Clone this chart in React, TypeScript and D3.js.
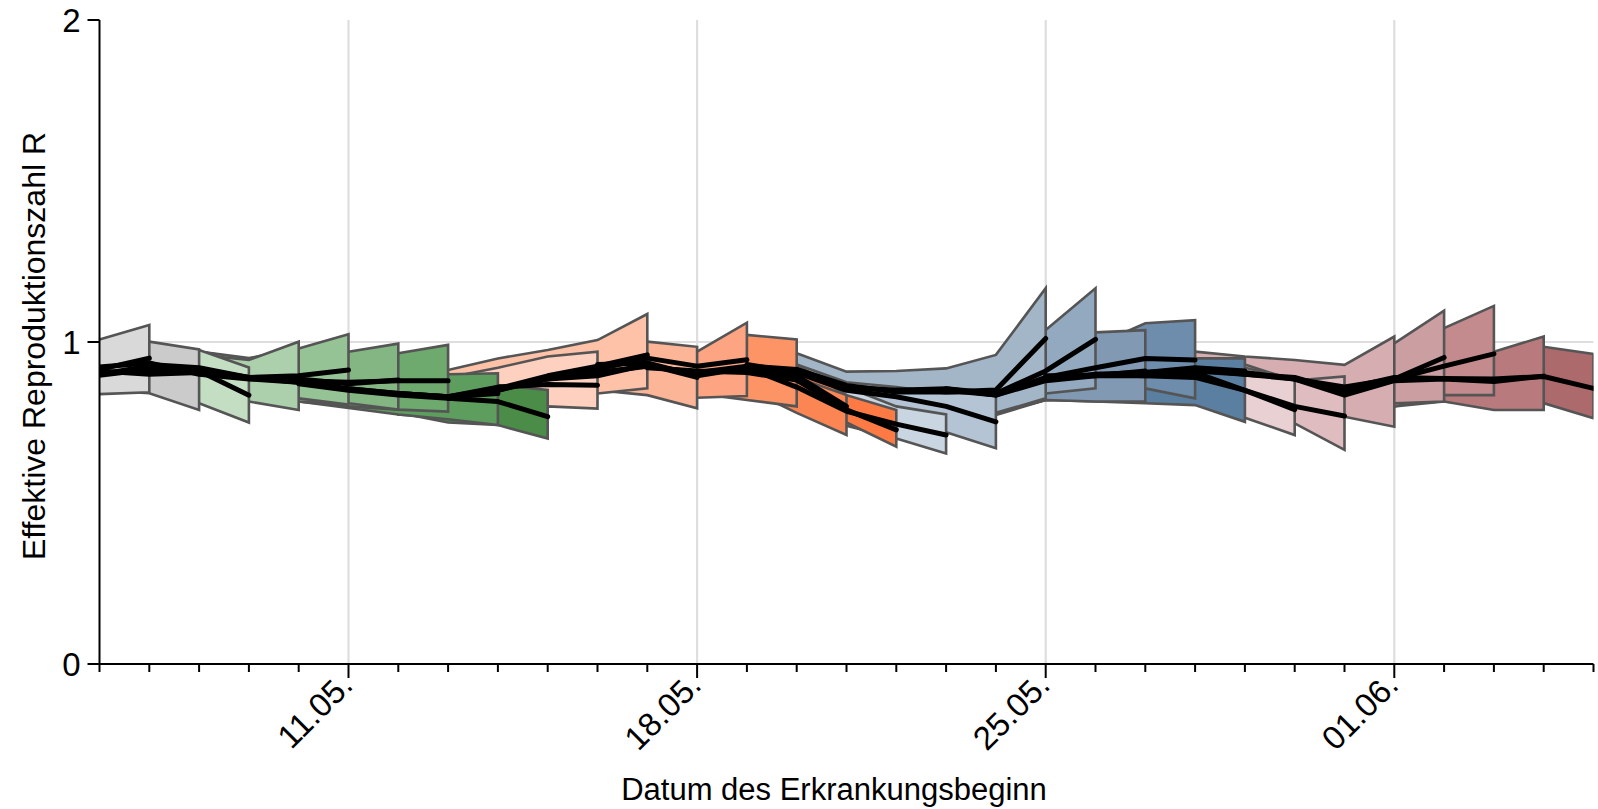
import * as d3 from "d3";

const W = 1598;
const H = 809;
const PLOT = { left: 99.5, right: 1593.5, top: 20, bottom: 664 };
const FONT = "'Liberation Sans', Arial, sans-serif";

// last day covered by each nowcast run (one ribbon + one line per run)
const pubEnd = [
  "2020-05-07", "2020-05-08", "2020-05-09", "2020-05-10", "2020-05-11", "2020-05-12",
  "2020-05-13", "2020-05-14", "2020-05-15", "2020-05-16", "2020-05-17", "2020-05-18",
  "2020-05-19", "2020-05-20", "2020-05-21", "2020-05-22", "2020-05-23", "2020-05-24",
  "2020-05-25", "2020-05-26", "2020-05-27", "2020-05-28", "2020-05-29", "2020-05-30",
  "2020-05-31", "2020-06-01", "2020-06-02", "2020-06-03", "2020-06-04", "2020-06-05",
];

// one shade per run, grouped by week
const pubColor = [
  "#d9d9d9", "#cbcbcb",
  "#c4dec4", "#acd0ac", "#96c396", "#83b683", "#6ea96e", "#5d9d5d", "#4a8c48",
  "#fdd0bf", "#fdc2a8", "#fdb597", "#fda482", "#fd9466", "#fc8653", "#fd7a45",
  "#c9d5e0", "#b4c4d4", "#a3b6c8", "#93a9bf", "#8199b2", "#6e8cab", "#5b7fa0",
  "#e8d0d3", "#dfbcc0", "#d6adb1", "#cb9ea2", "#c38b8e", "#b87a7c", "#ad6a6d",
];

// R estimates for the six days up to pubEnd (oldest first)
const estMid = [
  [0.9, 0.905, 0.91, 0.915, 0.915, 0.95],
  [0.895, 0.9, 0.91, 0.9, 0.925, 0.915],
  [0.9, 0.915, 0.897, 0.915, 0.91, 0.835],
  [0.925, 0.922, 0.935, 0.9, 0.885, 0.875],
  [0.91, 0.9, 0.905, 0.89, 0.895, 0.913],
  [0.93, 0.92, 0.89, 0.885, 0.87, 0.882],
  [0.915, 0.89, 0.88, 0.875, 0.88, 0.88],
  [0.89, 0.875, 0.855, 0.84, 0.83, 0.84],
  [0.87, 0.85, 0.835, 0.825, 0.815, 0.768],
  [0.855, 0.84, 0.83, 0.86, 0.868, 0.866],
  [0.84, 0.83, 0.855, 0.895, 0.925, 0.96],
  [0.825, 0.85, 0.885, 0.895, 0.93, 0.89],
  [0.85, 0.89, 0.915, 0.95, 0.925, 0.945],
  [0.885, 0.905, 0.925, 0.905, 0.925, 0.915],
  [0.93, 0.935, 0.895, 0.92, 0.895, 0.8],
  [0.92, 0.91, 0.905, 0.882, 0.789, 0.727],
  [0.905, 0.92, 0.86, 0.785, 0.745, 0.711],
  [0.93, 0.905, 0.85, 0.83, 0.8, 0.752],
  [0.915, 0.865, 0.845, 0.845, 0.851, 1.011],
  [0.86, 0.85, 0.855, 0.84, 0.91, 1.008],
  [0.85, 0.85, 0.835, 0.88, 0.895, 0.91],
  [0.855, 0.835, 0.89, 0.92, 0.949, 0.944],
  [0.84, 0.885, 0.9, 0.905, 0.92, 0.91],
  [0.895, 0.895, 0.895, 0.89, 0.85, 0.79],
  [0.9, 0.895, 0.905, 0.85, 0.8, 0.77],
  [0.905, 0.915, 0.9, 0.885, 0.86, 0.885],
  [0.91, 0.9, 0.89, 0.845, 0.885, 0.952],
  [0.905, 0.885, 0.85, 0.885, 0.925, 0.963],
  [0.885, 0.835, 0.88, 0.885, 0.877, 0.894],
  [0.855, 0.89, 0.887, 0.885, 0.893, 0.856],
];

const estLo = [
  [0.85, 0.845, 0.85, 0.85, 0.838, 0.844],
  [0.845, 0.85, 0.855, 0.85, 0.841, 0.789],
  [0.85, 0.855, 0.85, 0.855, 0.81, 0.75],
  [0.855, 0.85, 0.86, 0.845, 0.815, 0.789],
  [0.85, 0.86, 0.85, 0.825, 0.825, 0.806],
  [0.86, 0.85, 0.825, 0.815, 0.81, 0.79],
  [0.85, 0.825, 0.815, 0.8, 0.79, 0.784],
  [0.825, 0.815, 0.795, 0.775, 0.76, 0.742],
  [0.83, 0.805, 0.78, 0.75, 0.742, 0.7],
  [0.8, 0.78, 0.77, 0.79, 0.8, 0.793],
  [0.775, 0.765, 0.785, 0.82, 0.84, 0.856],
  [0.77, 0.79, 0.83, 0.85, 0.835, 0.794],
  [0.79, 0.83, 0.85, 0.87, 0.827, 0.832],
  [0.83, 0.85, 0.87, 0.84, 0.82, 0.8],
  [0.85, 0.87, 0.845, 0.855, 0.78, 0.711],
  [0.87, 0.845, 0.855, 0.83, 0.75, 0.675],
  [0.84, 0.855, 0.81, 0.74, 0.7, 0.654],
  [0.855, 0.83, 0.8, 0.78, 0.72, 0.67],
  [0.85, 0.81, 0.79, 0.785, 0.78, 0.825],
  [0.8, 0.79, 0.795, 0.8, 0.84, 0.856],
  [0.79, 0.79, 0.78, 0.82, 0.815, 0.815],
  [0.79, 0.78, 0.82, 0.825, 0.856, 0.825],
  [0.773, 0.82, 0.815, 0.81, 0.804, 0.752],
  [0.83, 0.835, 0.835, 0.815, 0.765, 0.711],
  [0.835, 0.84, 0.83, 0.8, 0.747, 0.665],
  [0.84, 0.84, 0.82, 0.79, 0.768, 0.737],
  [0.845, 0.835, 0.815, 0.785, 0.81, 0.815],
  [0.84, 0.82, 0.79, 0.8, 0.835, 0.835],
  [0.825, 0.795, 0.8, 0.815, 0.789, 0.789],
  [0.795, 0.81, 0.815, 0.8, 0.81, 0.763],
];

const estHi = [
  [0.97, 0.965, 0.975, 0.985, 1.008, 1.053],
  [0.965, 0.97, 0.975, 0.975, 1.001, 0.977],
  [0.97, 0.975, 0.97, 0.985, 0.975, 0.921],
  [0.975, 0.97, 0.98, 0.96, 0.944, 1.001],
  [0.97, 0.98, 0.97, 0.95, 0.98, 1.024],
  [0.98, 0.97, 0.945, 0.94, 0.97, 0.995],
  [0.97, 0.945, 0.94, 0.935, 0.965, 0.991],
  [0.945, 0.94, 0.925, 0.905, 0.9, 0.903],
  [0.94, 0.92, 0.9, 0.89, 0.866, 0.851],
  [0.92, 0.9, 0.89, 0.92, 0.955, 0.97],
  [0.9, 0.913, 0.949, 0.975, 1.006, 1.087],
  [0.89, 0.91, 0.95, 0.975, 1.001, 0.985],
  [0.91, 0.95, 0.975, 1.0, 0.97, 1.06],
  [0.95, 0.975, 1.0, 0.97, 1.022, 1.008],
  [0.975, 1.0, 0.965, 0.98, 0.89, 0.835],
  [0.995, 0.97, 0.98, 0.93, 0.835, 0.789],
  [0.965, 0.98, 0.92, 0.86, 0.8, 0.775],
  [0.98, 0.93, 0.875, 0.86, 0.84, 0.84],
  [0.965, 0.908, 0.91, 0.918, 0.96, 1.167],
  [0.89, 0.88, 0.89, 0.93, 1.037, 1.167],
  [0.88, 0.89, 0.9, 0.96, 1.03, 1.037],
  [0.89, 0.895, 0.96, 0.99, 1.058, 1.068],
  [0.88, 0.95, 0.96, 0.965, 0.949, 0.949],
  [0.93, 0.94, 0.945, 0.94, 0.92, 0.885],
  [0.94, 0.945, 0.95, 0.93, 0.88, 0.893],
  [0.96, 0.97, 0.955, 0.944, 0.929, 1.017],
  [0.95, 0.945, 0.935, 0.91, 0.996, 1.097],
  [0.945, 0.935, 0.91, 0.95, 1.043, 1.112],
  [0.935, 0.91, 0.945, 0.96, 0.97, 1.017],
  [0.91, 0.94, 0.95, 0.955, 0.985, 0.963],
];

const yTicks = [0, 1, 2];
const majorDays = ["2020-05-11", "2020-05-18", "2020-05-25", "2020-06-01"];
const xStart = "2020-05-06";
const xEnd = "2020-06-05";

const parse = d3.utcParse("%Y-%m-%d");
const fmt = d3.utcFormat("%d.%m.");

type Pt = { date: Date; mid: number; lo: number; hi: number };

export default function App() {
  const x = d3
    .scaleUtc()
    .domain([parse(xStart)!, parse(xEnd)!])
    .range([PLOT.left, PLOT.right]);
  const y = d3.scaleLinear().domain([0, 2]).range([PLOT.bottom, PLOT.top]);

  const runs = pubEnd.map((end, i) => {
    const last = parse(end)!;
    const n = estMid[i].length;
    const pts: Pt[] = estMid[i].map((m, k) => ({
      date: d3.utcDay.offset(last, k - (n - 1)),
      mid: m,
      lo: estLo[i][k],
      hi: estHi[i][k],
    }));
    return { pts, color: pubColor[i] };
  });

  const area = d3
    .area<Pt>()
    .x((d) => x(d.date))
    .y0((d) => y(d.lo))
    .y1((d) => y(d.hi));
  const line = d3
    .line<Pt>()
    .x((d) => x(d.date))
    .y((d) => y(d.mid));

  const days = d3.utcDay.range(parse(xStart)!, d3.utcDay.offset(parse(xEnd)!, 1));
  const majors = majorDays.map((s) => parse(s)!);
  const isMajor = (d: Date) => majors.some((m) => +m === +d);

  // older runs are painted last so their newest day stays on top
  const paintOrder = runs.slice().reverse();

  return (
    <svg
      width={W}
      height={H}
      style={{ position: "absolute", left: 0, top: 0, background: "#fff" }}
      fontFamily={FONT}
    >
      <defs>
        <clipPath id="plot-clip">
          <rect
            x={PLOT.left}
            y={PLOT.top}
            width={PLOT.right - PLOT.left}
            height={PLOT.bottom - PLOT.top}
          />
        </clipPath>
      </defs>

      {/* grid */}
      <g stroke="#dedede" strokeWidth={2.2}>
        {majors.map((d) => (
          <line key={+d} x1={x(d)} x2={x(d)} y1={PLOT.top} y2={PLOT.bottom} />
        ))}
        <line x1={PLOT.left} x2={PLOT.right} y1={y(1)} y2={y(1)} />
      </g>

      <g clipPath="url(#plot-clip)">
        {paintOrder.map((r, i) => (
          <path
            key={"a" + i}
            d={area(r.pts) ?? ""}
            fill={r.color}
            stroke="#555"
            strokeWidth={2.6}
            strokeLinejoin="miter"
          />
        ))}
        {runs.map((r, i) => (
          <path
            key={"l" + i}
            d={line(r.pts) ?? ""}
            fill="none"
            stroke="#000"
            strokeWidth={5}
            strokeLinejoin="round"
            strokeLinecap="round"
          />
        ))}
      </g>

      {/* y axis */}
      <g stroke="#000" strokeWidth={2}>
        <line x1={PLOT.left} x2={PLOT.left} y1={PLOT.top} y2={PLOT.bottom} />
        {yTicks.map((t) => (
          <line key={t} x1={PLOT.left - 12} x2={PLOT.left} y1={y(t)} y2={y(t)} />
        ))}
      </g>
      {yTicks.map((t) => (
        <text
          key={t}
          x={PLOT.left - 19}
          y={y(t)}
          dy="0.36em"
          textAnchor="end"
          fontSize={33}
          fill="#000"
        >
          {t}
        </text>
      ))}

      {/* x axis */}
      <g stroke="#000" strokeWidth={2}>
        <line x1={PLOT.left} x2={PLOT.right} y1={PLOT.bottom} y2={PLOT.bottom} />
        {days.map((d) => (
          <line
            key={+d}
            x1={x(d)}
            x2={x(d)}
            y1={PLOT.bottom}
            y2={PLOT.bottom + (isMajor(d) ? 14 : 8)}
          />
        ))}
      </g>
      {majors.map((d) => (
        <text
          key={+d}
          transform={`translate(${x(d) + 6},${PLOT.bottom + 23}) rotate(-45)`}
          textAnchor="end"
          fontSize={33}
          fill="#000"
        >
          {fmt(d)}
        </text>
      ))}

      <text x={834} y={800} textAnchor="middle" fontSize={31} fill="#000">
        Datum des Erkrankungsbeginn
      </text>
      <text
        transform={`translate(45,${346}) rotate(-90)`}
        textAnchor="middle"
        fontSize={32}
        fill="#000"
      >
        Effektive Reproduktionszahl R
      </text>
    </svg>
  );
}
